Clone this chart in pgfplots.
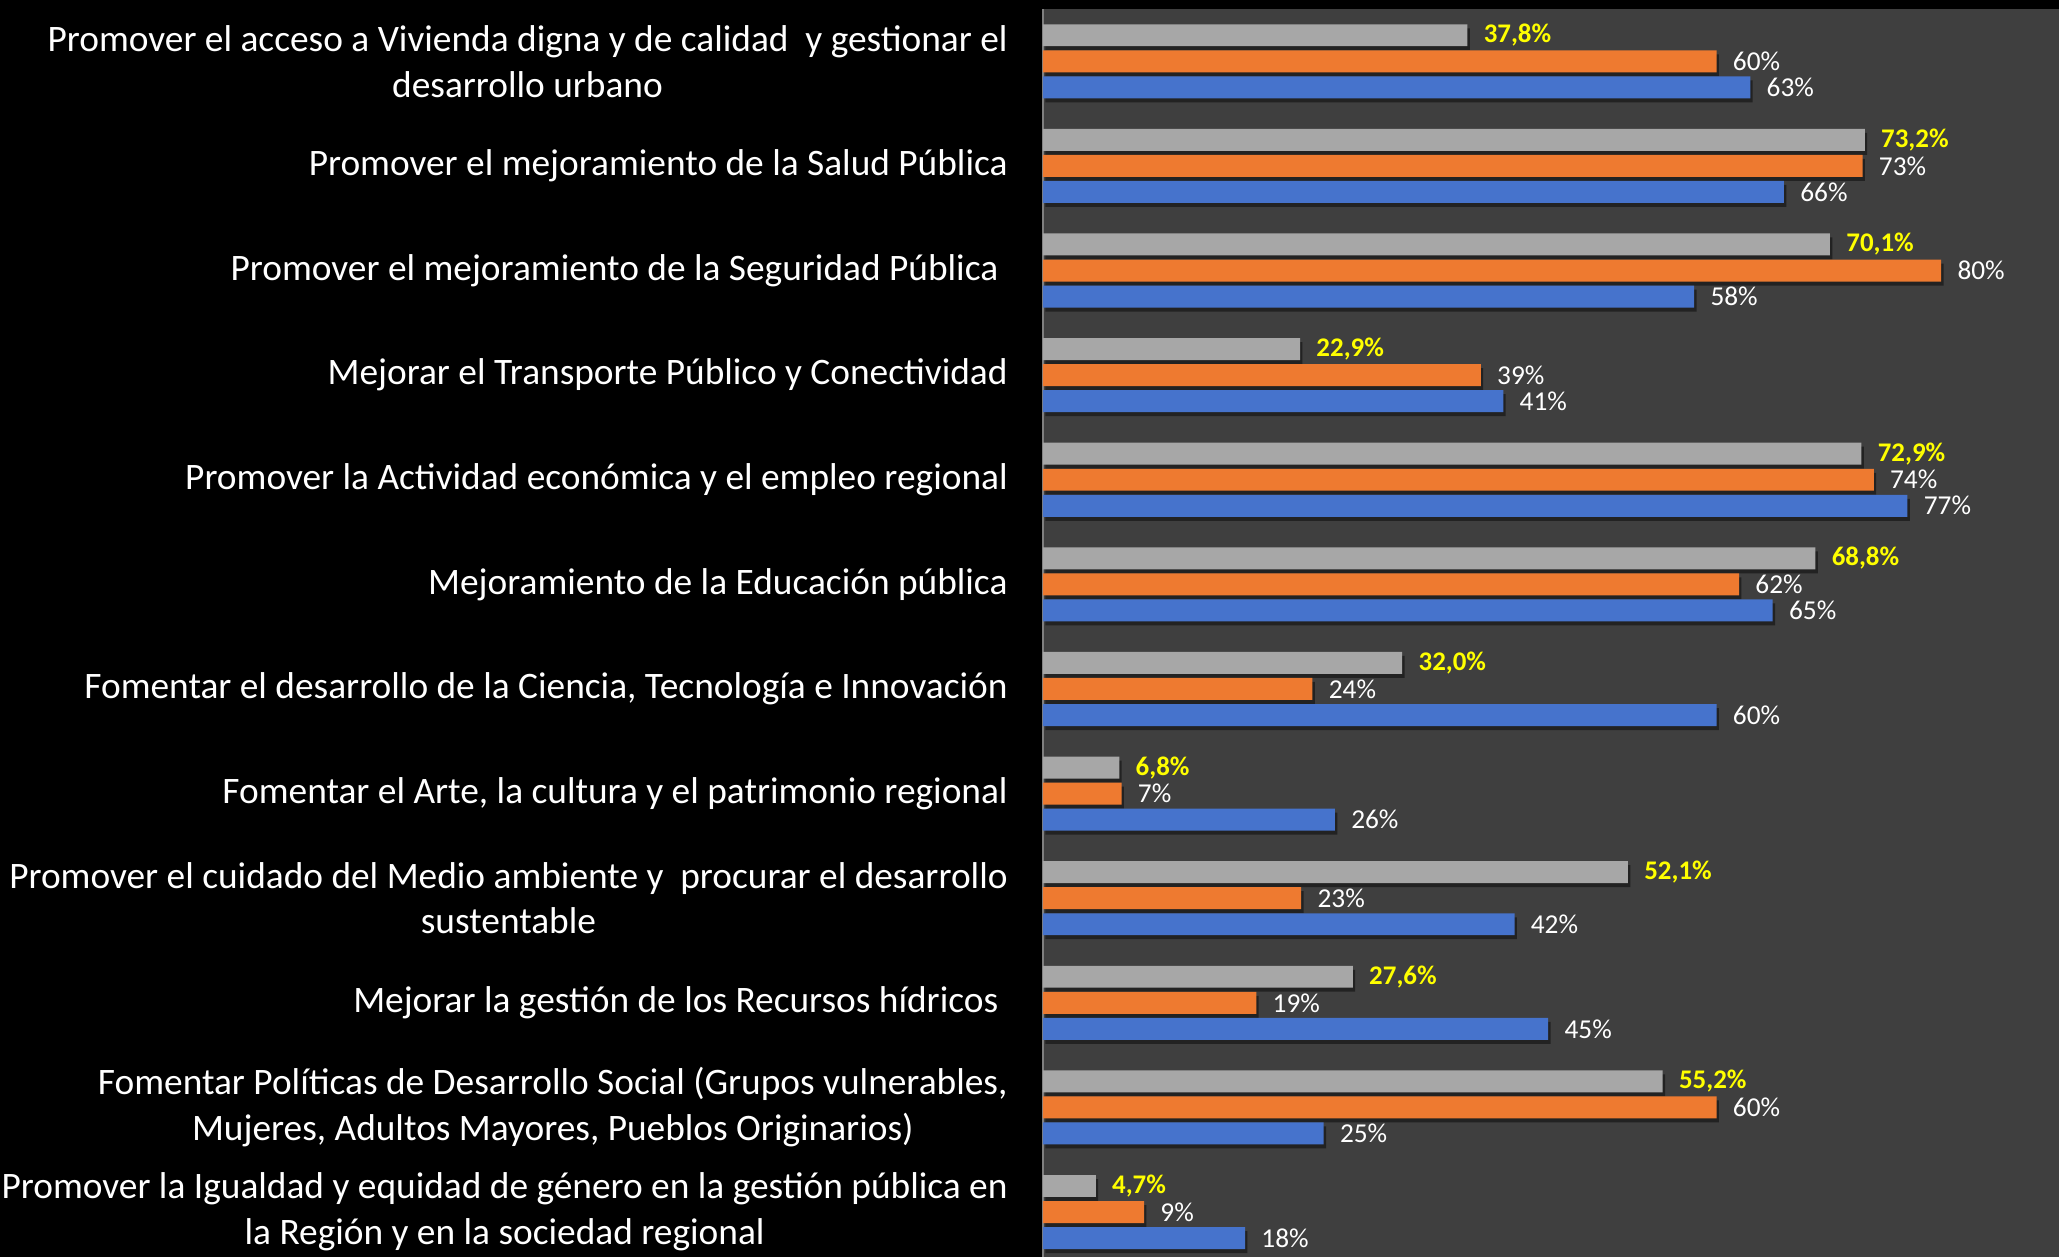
\documentclass[border=0pt]{standalone}
\usepackage{fontspec}
\setmainfont{Carlito}
\usepackage{pgfplots}
\pgfplotsset{compat=1.18}
\definecolor{bg}{HTML}{3F3F3F}
\definecolor{axgray}{HTML}{7F7F7F}
\definecolor{grayM}{HTML}{A7A7A7}
\definecolor{orM}{HTML}{EE7A30}
\definecolor{blM}{HTML}{4673CC}
\definecolor{ylw}{HTML}{FFFF00}
\tikzset{barsh/.style={draw=none, preaction={fill=black, fill opacity=0.45, transform canvas={xshift=1.2bp, yshift=-2bp}}}}
\begin{document}
\begin{tikzpicture}
\fill[black] (-521.5bp,0) rectangle (508bp,628.5bp);
\useasboundingbox (-521.5bp,0) rectangle (508bp,628.5bp);
\begin{axis}[
  at={(0,0)}, anchor=south west,
  scale only axis, width=508bp, height=624bp,
  xmin=0, xmax=90.5, ymin=-0.5, ymax=11.43, y dir=reverse,
  xbar, bar width=0.21, bar shift=0pt,
  axis background/.style={fill=bg},
  axis x line=none, axis y line=left,
  y axis line style={-, draw=axgray, line width=1bp},
  xtick=\empty, ytick={0,...,11}, major tick length=0pt,
  yticklabels={
    {Promover el acceso a Vivienda digna y de calidad\ \ y gestionar el\\desarrollo urbano},
    {Promover el mejoramiento de la Salud Pública},
    {Promover el mejoramiento de la Seguridad Pública\hspace{0.25em}},
    {Mejorar el Transporte Público y Conectividad},
    {Promover la Actividad económica y el empleo regional},
    {Mejoramiento de la Educación pública},
    {Fomentar el desarrollo de la Ciencia, Tecnología e Innovación},
    {Fomentar el Arte, la cultura y el patrimonio regional},
    {Promover el cuidado del Medio ambiente y\ \ procurar el desarrollo\\sustentable},
    {Mejorar la gestión de los Recursos hídricos\hspace{0.25em}},
    {Fomentar Políticas de Desarrollo Social (Grupos vulnerables,\\Mujeres, Adultos Mayores, Pueblos Originarios)},
    {Promover la Igualdad y equidad de género en la gestión pública en\\la Región y en la sociedad regional}
  },
  yticklabel style={align=center, text=white, font=\fontsize{18.75}{23}\selectfont, inner sep=0pt, xshift=-17.5bp},
  /pgf/number format/assume math mode=true,
  point meta=x,
  nodes near coords,
  every node near coord/.append style={anchor=west, inner sep=0pt, xshift=8bp, text=white, font=\fontsize{13.7}{15}\selectfont},
]
\addplot[barsh, fill=grayM,
  nodes near coords={\pgfmathprintnumber[fixed,fixed zerofill,precision=1,use comma,assume math mode=true]{\pgfplotspointmeta}\%},
  every node near coord/.append style={text=ylw, font=\fontsize{13.5}{15}\selectfont\bfseries}]
coordinates {(37.8,-0.249) (73.2,0.751) (70.1,1.751) (22.9,2.751) (72.9,3.751) (68.8,4.751)
 (32.0,5.751) (6.8,6.751) (52.1,7.751) (27.6,8.751) (55.2,9.751) (4.7,10.751)};
\addplot[barsh, fill=orM,
  nodes near coords={\pgfmathprintnumber[fixed,precision=0,assume math mode=true]{\pgfplotspointmeta}\%}]
coordinates {(60,0) (73,1) (80,2) (39,3) (74,4) (62,5) (24,6) (7,7) (23,8) (19,9) (60,10) (9,11)};
\addplot[barsh, fill=blM,
  nodes near coords={\pgfmathprintnumber[fixed,precision=0,assume math mode=true]{\pgfplotspointmeta}\%}]
coordinates {(63,0.249) (66,1.249) (58,2.249) (41,3.249) (77,4.249) (65,5.249) (60,6.249) (26,7.249) (42,8.249) (45,9.249) (25,10.249) (18,11.249)};
\end{axis}
\end{tikzpicture}
\end{document}
